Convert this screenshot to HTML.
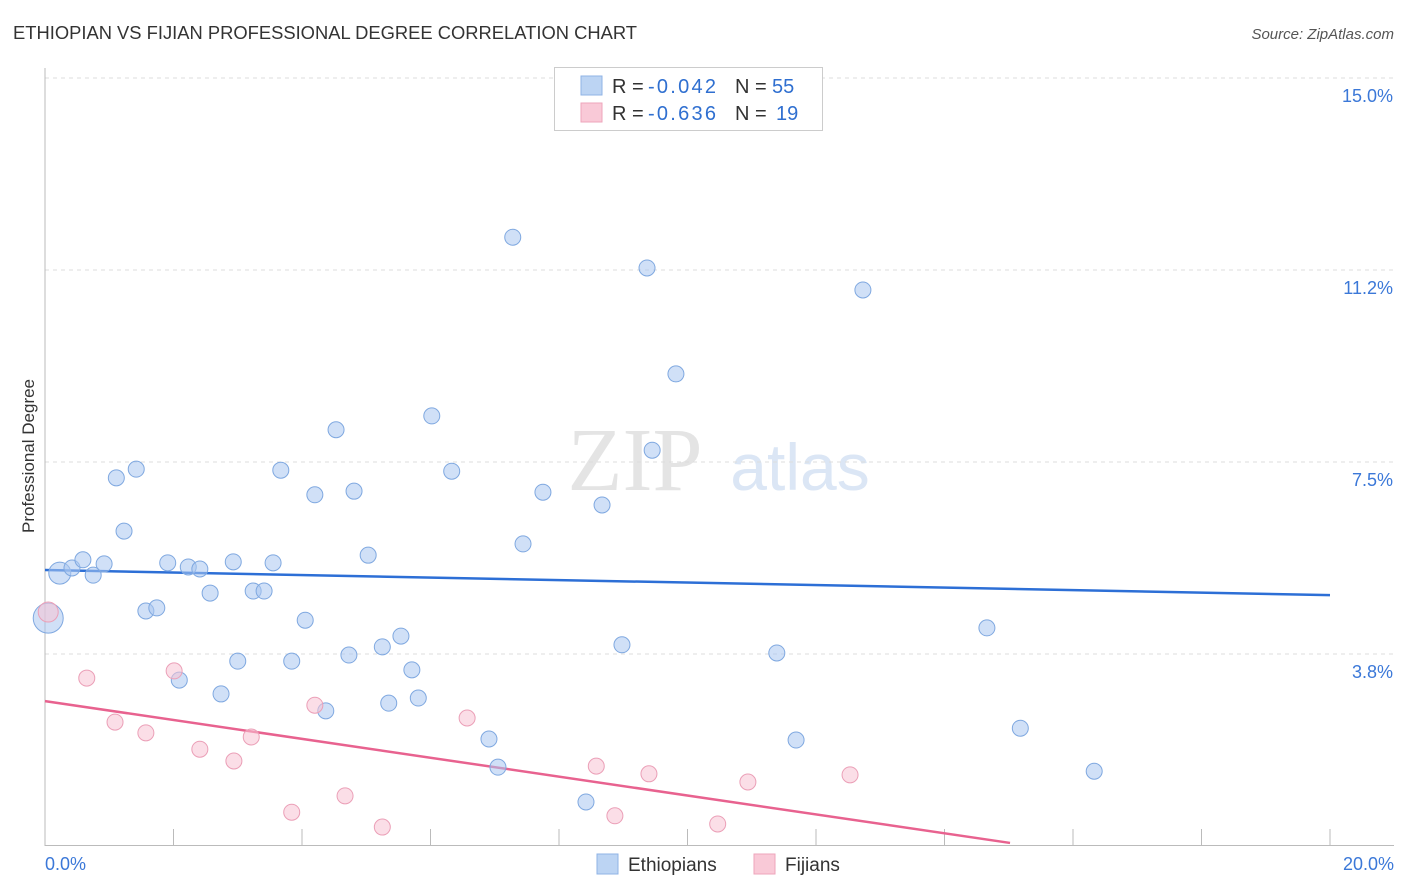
<!DOCTYPE html>
<html><head><meta charset="utf-8"><style>
body{margin:0;background:#fff;font-family:"Liberation Sans",sans-serif;}
#wrap{position:relative;width:1406px;height:892px;overflow:hidden;}
</style></head><body>
<div id="wrap">
<svg id="svg" width="1406" height="892" xmlns="http://www.w3.org/2000/svg">
<text x="13" y="39" font-size="18" fill="#333" textLength="624" lengthAdjust="spacingAndGlyphs">ETHIOPIAN VS FIJIAN PROFESSIONAL DEGREE CORRELATION CHART</text>
<text x="1394" y="39" font-size="15" fill="#555" font-style="italic" text-anchor="end">Source: ZipAtlas.com</text>
<text x="635" y="490" font-size="90" fill="#e4e4e4" font-family="Liberation Serif" text-anchor="middle">ZIP</text>
<text x="800" y="490" font-size="66" fill="#dbe6f5" text-anchor="middle">atlas</text>
<g id="grid"></g><g id="axes"></g><g id="trend"></g><g id="pts"></g>
<text transform="translate(34,456) rotate(-90)" font-size="17" fill="#333" text-anchor="middle">Professional Degree</text>
<g>
<rect x="554.5" y="67.5" width="268" height="63" fill="#fff" stroke="#ccc"/>
<rect x="581" y="76" width="21" height="19" fill="#bcd4f3" stroke="#8fb3e6"/>
<rect x="581" y="103" width="21" height="19" fill="#f9c9d7" stroke="#eea5bb"/>
<text x="612" y="93" font-size="20" fill="#333">R = <tspan x="648" fill="#2f6fd0" textLength="68">-0.042</tspan><tspan x="735">N = </tspan><tspan x="772" fill="#2f6fd0">55</tspan></text>
<text x="612" y="120" font-size="20" fill="#333">R = <tspan x="648" fill="#2f6fd0" textLength="68">-0.636</tspan><tspan x="735">N = </tspan><tspan x="776" fill="#2f6fd0">19</tspan></text>
</g>
<g>
<rect x="597" y="854" width="21" height="20" fill="#bcd4f3" stroke="#8fb3e6"/>
<text x="628" y="871" font-size="19" fill="#333">Ethiopians</text>
<rect x="754" y="854" width="21" height="20" fill="#f9c9d7" stroke="#eea5bb"/>
<text x="785" y="871" font-size="19" fill="#333">Fijians</text>
</g>
</svg>
<script>
const ethX=[0.05,0.23,0.42,0.59,0.75,0.92,1.11,1.23,1.42,1.57,1.74,1.91,2.09,2.23,2.41,2.57,2.74,2.93,3.00,3.24,3.41,3.55,3.67,3.84,4.05,4.20,4.37,4.53,4.73,4.81,5.03,5.25,5.35,5.54,5.71,5.81,6.02,6.33,6.91,7.05,7.28,7.44,7.75,8.42,8.67,8.98,9.37,9.45,9.82,11.39,11.69,12.73,14.66,15.18,16.33];
const ethY=[4.45,5.33,5.43,5.59,5.29,5.51,7.19,6.15,7.36,4.59,4.65,5.53,3.24,5.45,5.41,4.94,2.97,5.55,3.61,4.98,4.98,5.53,7.34,3.61,4.41,6.86,2.64,8.13,3.73,6.93,5.68,3.89,2.79,4.10,3.44,2.89,8.40,7.32,2.09,1.54,11.89,5.90,6.91,0.86,6.66,3.93,11.29,7.73,9.22,3.77,2.07,10.86,4.26,2.30,1.46];
const fijX=[0.05,0.65,1.09,1.57,2.01,2.41,2.94,3.21,3.84,4.20,4.67,5.25,6.57,8.58,8.87,9.40,10.47,10.94,12.53];
const fijY=[4.57,3.28,2.42,2.21,3.42,1.89,1.66,2.13,0.66,2.75,0.98,0.37,2.50,1.56,0.59,1.41,0.43,1.25,1.39];
const ethTrendX=[0,20], ethTrendY=[5.39,4.90];
const fijTrendX=[0,15.02], fijTrendY=[2.83,0.06];
const yTicks=[3.75,7.5,11.25,15];
const yTickLabels=["3.8%","7.5%","11.2%","15.0%"];
const xTicks=[2,4,6,8,10,12,14,16,18,20];
const NS="http://www.w3.org/2000/svg";
const sx=v=>45+v*64.25, sy=v=>846-v*51.2;
function mk(tag,attrs,parent){const e=document.createElementNS(NS,tag);for(const k in attrs)e.setAttribute(k,attrs[k]);document.getElementById(parent).appendChild(e);return e;}
yTicks.forEach((t,i)=>{
 const l=mk('line',{x1:45,x2:1394,y1:sy(t),y2:sy(t),stroke:'#ddd','stroke-dasharray':'4,4'},'grid');
 
 
 const tx=mk('text',{x:1393,y:sy(t)+24,'font-size':18,fill:'#3b78d8','text-anchor':'end'},'grid');
 tx.textContent=yTickLabels[i];
 
 
});
const ax=mk('line',{x1:45,x2:45,y1:68,y2:846,stroke:'#bbb'},'axes');


const bx=mk('line',{x1:45,x2:1394,y1:845.5,y2:845.5,stroke:'#bbb'},'axes');


xTicks.forEach(t=>{
 const l=mk('line',{x1:sx(t),x2:sx(t),y1:829,y2:846,stroke:'#bbb'},'axes');
 
 
});
const xl0=mk('text',{x:45,y:870,'font-size':18,fill:'#3b78d8'},'axes');xl0.textContent='0.0%';


const xl1=mk('text',{x:1394,y:870,'font-size':18,fill:'#3b78d8','text-anchor':'end'},'axes');xl1.textContent='20.0%';


ethX.forEach((x,i)=>{
 const c=mk('circle',{cx:sx(x),cy:sy(ethY[i]),r:i<2?(i==0?15:11):8,fill:'rgba(170,199,240,0.55)',stroke:'#7fa8e0','stroke-width':1},'pts');
 
 
});
fijX.forEach((x,i)=>{
 const c=mk('circle',{cx:sx(x),cy:sy(fijY[i]),r:i==0?10:8,fill:'rgba(248,195,211,0.55)',stroke:'#eb9fb7','stroke-width':1},'pts');
 
 
});
const t1=mk('line',{x1:sx(ethTrendX[0]),y1:sy(ethTrendY[0]),x2:sx(ethTrendX[1]),y2:sy(ethTrendY[1]),stroke:'#2d6fd6','stroke-width':2.5},'trend');


const t2=mk('line',{x1:sx(fijTrendX[0]),y1:sy(fijTrendY[0]),x2:sx(fijTrendX[1]),y2:sy(fijTrendY[1]),stroke:'#e8628f','stroke-width':2.5},'trend');


</script>
</div>
</body></html>
